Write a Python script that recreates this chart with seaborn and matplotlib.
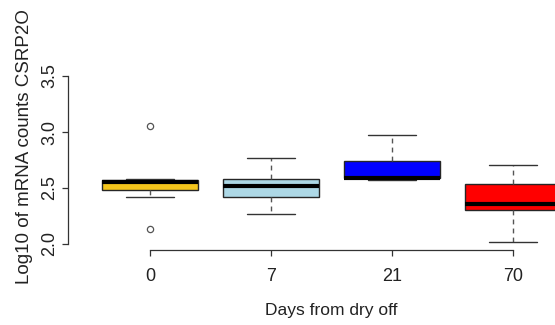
import numpy as np
import pandas as pd
import matplotlib
matplotlib.use("Agg")
import matplotlib.pyplot as plt
import seaborn as sns

# ---- data ----
days = ["0", "7", "21", "70"]
day0 = [2.13, 2.42, 2.48, 2.52, 2.55, 2.56, 2.57, 2.58, 3.05]
day7 = [2.27, 2.35, 2.42, 2.47, 2.52, 2.55, 2.58, 2.68, 2.77]
day21 = [2.575, 2.585, 2.59, 2.59, 2.59, 2.65, 2.745, 2.85, 2.975]
day70 = [2.02, 2.20, 2.30, 2.33, 2.36, 2.45, 2.54, 2.62, 2.705]
colors = ["#F4C51C", "#ADD8E6", "#0000FF", "#FF0000"]
yticks = [2.0, 2.5, 3.0, 3.5]
xlabel = "Days from dry off"
ylabel = "Log10 of mRNA counts CSRP2O"

groups = [day0, day7, day21, day70]
df = pd.DataFrame({
    "day": np.concatenate([[d] * len(g) for d, g in zip(days, groups)]),
    "value": np.concatenate(groups),
})

sns.set_theme(style="white")
plt.rcParams["font.family"] = ["Liberation Sans", "DejaVu Sans"]

W, H = 555, 325
fig = plt.figure(figsize=(W / 100, H / 100), dpi=100)
# pixel geometry of the reference
x_axis_px = 68      # y spine position
y_axis_px = 250     # x spine position
ax = fig.add_axes([x_axis_px / W, (H - y_axis_px) / H,
                   1 - x_axis_px / W, y_axis_px / H])

sns.boxplot(
    data=df, x="day", y="value", hue="day", order=days, hue_order=days,
    palette=colors, saturation=1, legend=False, width=0.8,
    linecolor="#262626", linewidth=1.0,
    whiskerprops=dict(linestyle=(0, (3.5, 3)), color="#555555"),
    capprops=dict(color="#333333"),
    medianprops=dict(linewidth=3, color="black"),
    flierprops=dict(marker="o", markersize=4.5, markerfacecolor="none",
                    markeredgecolor="#555555", markeredgewidth=0.9),
    ax=ax,
)

# scales: category i at px 150 + 121*i ; value v at px 244 - 112*(v-2)
px_per_cat = 121.0
x0_px = 150.0
ax.set_xlim((x_axis_px - x0_px) / px_per_cat, (W - x0_px) / px_per_cat)
px_per_val = 112.0
ax.set_ylim(2.0 - (y_axis_px - 244) / px_per_val, 2.0 + 244 / px_per_val)

for s in ["top", "right"]:
    ax.spines[s].set_visible(False)
for s in ["left", "bottom"]:
    ax.spines[s].set_color("#333333")
    ax.spines[s].set_linewidth(0.9)
ax.spines["left"].set_bounds(yticks[0], yticks[-1])
ax.spines["bottom"].set_bounds(0, len(days) - 1)

ax.set_yticks(yticks)
ax.set_yticklabels([f"{t:.1f}" for t in yticks], rotation=90, va="center")
ax.tick_params(axis="both", direction="out", length=4.5, width=0.9, color="#333333",
               labelsize=13, labelcolor="#222222", left=True, bottom=True)
ax.tick_params(axis="x", pad=8.5)
ax.tick_params(axis="y", pad=2.5)

ax.set_xlabel(xlabel, fontsize=12.5, color="#222222")
ax.set_ylabel(ylabel, fontsize=13.5, color="#222222")
xl = ax.get_xlim()
ax.xaxis.set_label_coords((1.5 - xl[0]) / (xl[1] - xl[0]), -53 / y_axis_px)
ax.yaxis.set_label_coords((33 - x_axis_px) / (W - x_axis_px), 1 - 147 / y_axis_px)

fig.savefig("out.png", dpi=100)
